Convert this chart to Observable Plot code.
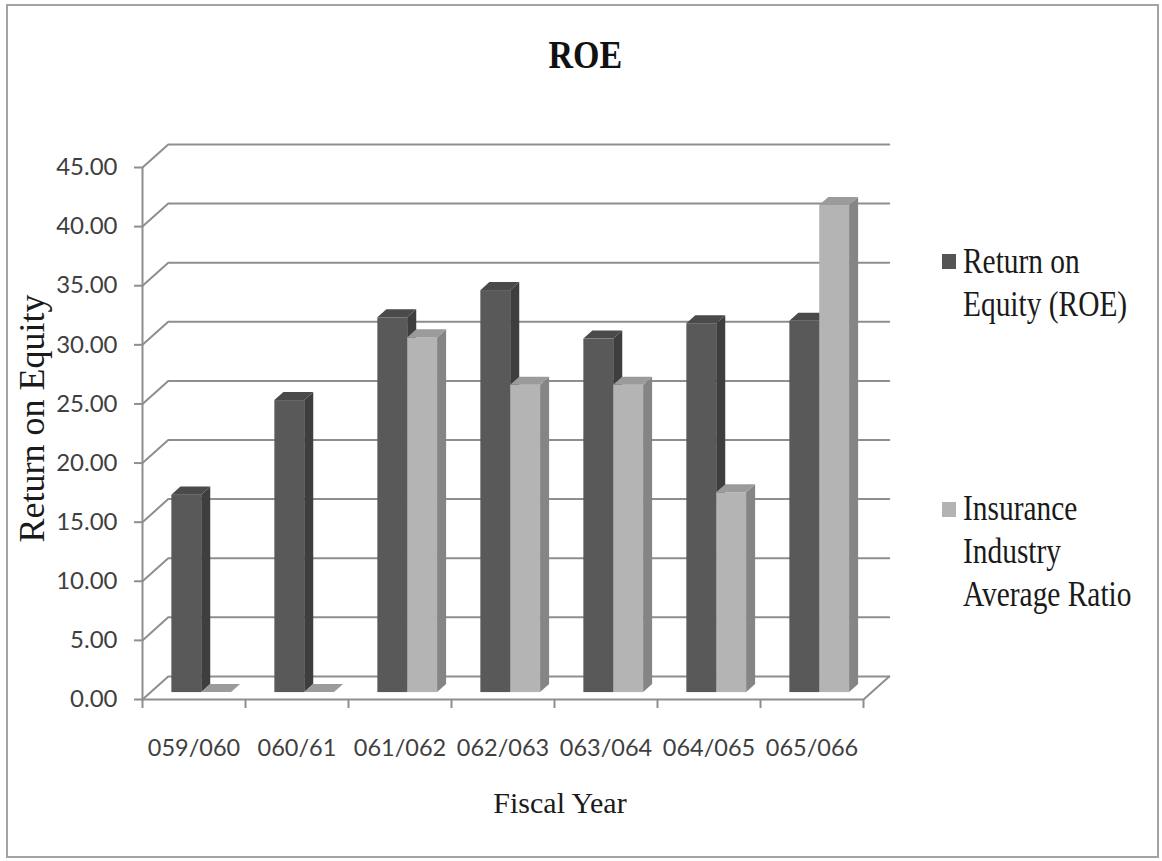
<!DOCTYPE html>
<html>
<head>
<meta charset="utf-8">
<script src="https://cdn.jsdelivr.net/npm/d3@7"></script>
<script src="https://cdn.jsdelivr.net/npm/@observablehq/plot@0.6"></script>
<style>
  html, body { margin: 0; padding: 0; background: #fff; }
  #chart { position: relative; width: 1162px; height: 861px; overflow: hidden; background: #fff; }
  #plot { position: absolute; left: 0; top: 0; }
  #plot svg { overflow: visible; }
  #frame { position: absolute; left: 6px; top: 4px; width: 1153px; height: 854px;
           border: 2px solid #a3a3a3; box-sizing: border-box; pointer-events: none; }
  .title { position: absolute; left: 0; width: 1170px; top: 34.5px; text-align: center;
           font: bold 40px "Liberation Serif", "Times New Roman", serif; line-height: 40px; color: #111; }
  .title span { display: inline-block; transform: scaleX(0.85); }
  .swatch { position: absolute; width: 14px; height: 15px; }
  .legend-text { position: absolute; left: 963px; font: 35px "Liberation Serif", "Times New Roman", serif;
                 line-height: 43px; color: #1a1a1a; white-space: nowrap;
                 transform: scaleX(0.84); transform-origin: left top; }
</style>
</head>
<body>
<div id="chart">
  <div id="plot"></div>
  <div class="title"><span id="title-text"></span></div>
  <div id="legend"></div>
  <div id="frame"></div>
</div>
<script>
// Fiscal years and the two series (percent)
const years = ["059/060", "060/61", "061/062", "062/063", "063/064", "064/065", "065/066"];
const roe = [16.7, 24.7, 31.7, 34.0, 29.9, 31.2, 31.4];
const industry = [0, 0, 30.0, 26.0, 26.0, 16.9, 41.2];
const seriesNames = [["Return on", "Equity (ROE)"], ["Insurance", "Industry", "Average Ratio"]];
const yTicks = d3.range(0, 46, 5);
const titleText = "ROE";
const xTitle = "Fiscal Year";
const yTitle = "Return on Equity";

// Face shades for each series: front, side, top
const shades = [
  {front: "#595959", side: "#3e3e3e", top: "#4a4a4a", legend: "#555555"},
  {front: "#b4b4b4", side: "#858585", top: "#9b9b9b", legend: "#b3b3b3"}
];
const gridColor = "#8e8e8e";
const labelColor = "#3f3f3f";

// Oblique projection: depth 0 is the front plane, depth 1 the back wall.
const DX = 0.25;   // x units shifted over the full depth
const DY = 1.95;   // y units shifted over the full depth
const px = (x, d) => x + d * DX;
const py = (y, d) => y + d * DY;

// Bars sit between these depths; each series takes a slot inside its category
const D0 = 0.3, D1 = 0.65;
const OFF = 0.21, W = 0.29;

const series = [roe, industry];
const fronts = [[], []], sides = [[], []], tops = [[], []];
years.forEach((year, i) => {
  series.forEach((vals, s) => {
    const v = vals[i];
    const x1 = i + OFF + s * W, x2 = x1 + W;
    const id = `${year}-${s}`;
    fronts[s].push({x1: px(x1, D0), x2: px(x2, D0), y1: py(0, D0), y2: py(v, D0)});
    for (const d of [D0, D1]) {
      sides[s].push({id, x: px(x2, d), y1: py(0, d), y2: py(v, d)});
      tops[s].push({id, y: py(v, d), x1: px(x1, d), x2: px(x2, d)});
    }
  });
});

// Back wall gridlines: diagonal from the front axis, then across the back wall
const grid = yTicks.flatMap(t => [
  {t, x: px(0, 0), y: py(t, 0)},
  {t, x: px(0, 1), y: py(t, 1)},
  {t, x: px(years.length, 1), y: py(t, 1)}
]);
// Front edge and right edge of the floor
const floorEdge = [
  {x: px(0, 0), y: py(0, 0)},
  {x: px(years.length, 0), y: py(0, 0)},
  {x: px(years.length, 1), y: py(0, 1)}
];

const barMarks = [0, 1].flatMap(s => [
  Plot.rect(fronts[s], {x1: "x1", x2: "x2", y1: "y1", y2: "y2", fill: shades[s].front}),
  Plot.areaY(sides[s], {x: "x", y1: "y1", y2: "y2", z: "id", fill: shades[s].side}),
  Plot.areaX(tops[s], {y: "y", x1: "x1", x2: "x2", z: "id", fill: shades[s].top})
]);

const chart = Plot.plot({
  width: 1162,
  height: 861,
  marginLeft: 142,
  marginRight: 299,
  marginTop: 167,
  marginBottom: 162,
  x: {type: "linear", domain: [0, years.length]},
  y: {domain: [0, 45]},
  style: {fontFamily: "Lato, 'Open Sans', sans-serif", background: "transparent", overflow: "visible"},
  marks: [
    Plot.line(grid, {x: "x", y: "y", z: "t", stroke: gridColor, strokeWidth: 2}),
    Plot.line(floorEdge, {x: "x", y: "y", stroke: gridColor, strokeWidth: 2}),
    Plot.ruleX([0], {y1: 0, y2: 45, stroke: gridColor, strokeWidth: 2}),
    Plot.axisY(yTicks, {tickSize: 8, tickPadding: 17, tickFormat: d3.format(".2f"), fontSize: 24,
                        stroke: gridColor, strokeWidth: 2, fill: labelColor, label: null}),
    Plot.axisX(d3.range(0, years.length + 1), {tickSize: 9, tickFormat: () => "",
                        stroke: gridColor, strokeWidth: 2, label: null}),
    Plot.axisX(years.map((_, i) => i + 0.5), {tickSize: 0, tickPadding: 40, fontSize: 23.5,
                        tickFormat: v => years[Math.floor(v)], fill: labelColor, label: null}),
    ...barMarks,
    Plot.text([yTitle], {text: d => d, frameAnchor: "left", rotate: -90, textAnchor: "middle", lineAnchor: "middle",
                         dx: -110, dy: -15, fontSize: 36, fontFamily: "'Liberation Serif', serif", fill: "#1a1a1a"}),
    Plot.text([xTitle], {text: d => d, frameAnchor: "bottom", textAnchor: "middle", lineAnchor: "middle",
                         dx: 57, dy: 104, fontSize: 30, fontFamily: "'Liberation Serif', serif", fill: "#1a1a1a"})
  ]
});
document.getElementById("plot").append(chart);

document.getElementById("title-text").textContent = titleText;

// Legend on the right
const legend = document.getElementById("legend");
const legendTops = [239.7, 486.7];
const swatchTops = [254, 502];
seriesNames.forEach((lines, s) => {
  const sw = document.createElement("div");
  sw.className = "swatch";
  sw.style.left = "942px";
  sw.style.top = swatchTops[s] + "px";
  sw.style.background = shades[s].legend;
  legend.append(sw);
  const tx = document.createElement("div");
  tx.className = "legend-text";
  tx.style.top = legendTops[s] + "px";
  tx.innerHTML = lines.join("<br>");
  legend.append(tx);
});
</script>
</body>
</html>
